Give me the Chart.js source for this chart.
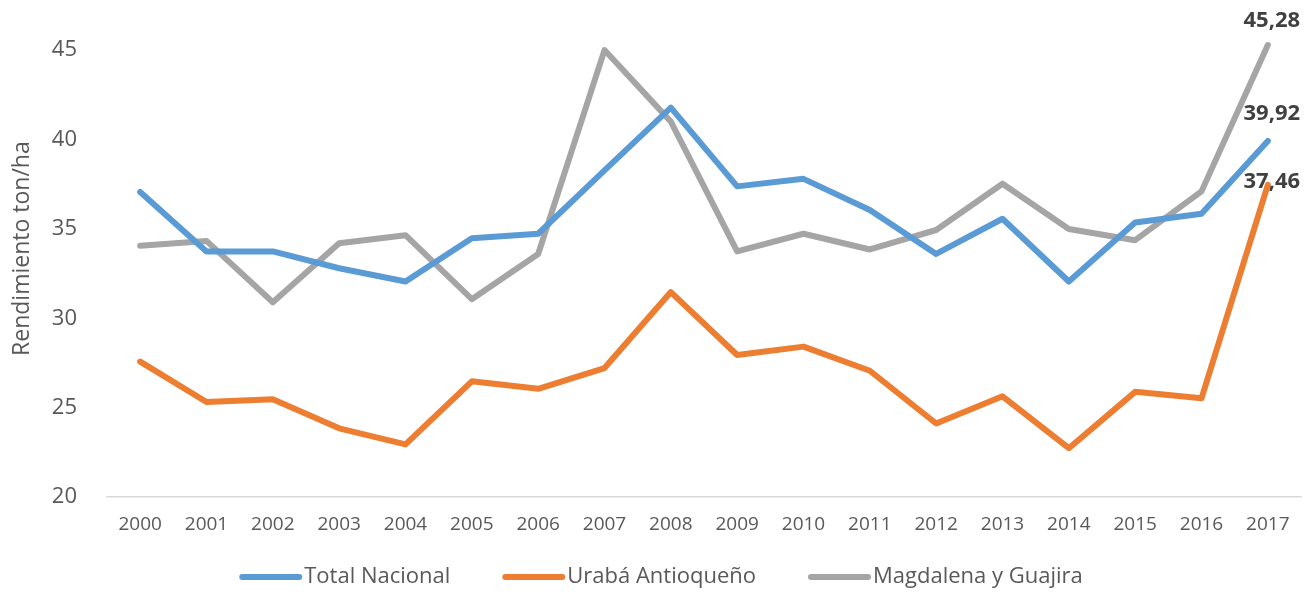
<!DOCTYPE html>
<html>
<head>
<meta charset="utf-8">
<script src="https://cdn.jsdelivr.net/npm/chart.js@4.4.1/dist/chart.umd.min.js"></script>
<style>
    html, body { margin: 0; padding: 0; background: #fff; }
    #wrap { width: 1307px; height: 592px; position: relative; }
</style>
</head>
<body>
<div id="wrap"><canvas id="rendimientoChart"></canvas></div>
<script>
    // Data
    const years = ['2000', '2001', '2002', '2003', '2004', '2005', '2006', '2007', '2008',
                   '2009', '2010', '2011', '2012', '2013', '2014', '2015', '2016', '2017'];
    const totalNacional = [37.07, 33.74, 33.74, 32.8, 32.06, 34.48, 34.73, 38.27, 41.78,
                           37.38, 37.8, 36.06, 33.6, 35.57, 32.06, 35.36, 35.85, 39.92];
    const urabaAntioqueno = [27.58, 25.32, 25.47, 23.85, 22.95, 26.48, 26.06, 27.22, 31.47,
                             27.95, 28.42, 27.07, 24.12, 25.64, 22.74, 25.89, 25.53, 37.46];
    const magdalenaGuajira = [34.06, 34.33, 30.9, 34.2, 34.65, 31.07, 33.6, 45.0, 41.0,
                              33.74, 34.73, 33.85, 34.94, 37.53, 35.0, 34.37, 37.1, 45.28];
    const yTicks = [20, 25, 30, 35, 40, 45];

    // Label on the last point of each series, offsets in px
    const endLabelOffsets = [{ dx: 4, dy: -27 }, { dx: 4, dy: -3 }, { dx: 4, dy: -24 }];

    const endLabels = {
        id: 'endLabels',
        afterDatasetsDraw: function(chart) {
            const ctx = chart.ctx;
            ctx.save();
            ctx.font = 'bold 22px "Open Sans"';
            ctx.fillStyle = '#404040';
            ctx.textAlign = 'center';
            ctx.textBaseline = 'middle';
            chart.data.datasets.forEach(function(ds, i) {
                const meta = chart.getDatasetMeta(i);
                const last = meta.data[meta.data.length - 1];
                const value = ds.data[ds.data.length - 1];
                const off = endLabelOffsets[i];
                ctx.fillText(value.toFixed(2).replace('.', ','), last.x + off.dx, last.y + off.dy);
            });
            ctx.restore();
        }
    };

    // Legend drawn by hand so the item spacing matches the original
    const bottomLegend = {
        id: 'bottomLegend',
        afterDraw: function(chart) {
            const ctx = chart.ctx;
            const lineLen = 60, textGap = 5, itemGap = 52, y = 577;
            ctx.save();
            ctx.font = '22px "Open Sans"';
            ctx.textBaseline = 'middle';
            const widths = chart.data.datasets.map(function(ds) {
                return lineLen + textGap + ctx.measureText(ds.label).width;
            });
            const total = widths.reduce(function(a, b) { return a + b; }, 0) + itemGap * (widths.length - 1);
            let x = 661 - total / 2;
            chart.data.datasets.forEach(function(ds, i) {
                ctx.strokeStyle = ds.borderColor;
                ctx.lineWidth = 6;
                ctx.lineCap = 'round';
                ctx.beginPath();
                ctx.moveTo(x + 3, y);
                ctx.lineTo(x + lineLen, y);
                ctx.stroke();
                ctx.fillStyle = '#595959';
                ctx.fillText(ds.label, x + lineLen + textGap, y);
                x += widths[i] + itemGap;
            });
            ctx.restore();
        }
    };

    const ctx = document.getElementById('rendimientoChart').getContext('2d');
    new Chart(ctx, {
        type: 'line',
        data: {
            labels: years,
            datasets: [{
                label: 'Total Nacional',
                data: totalNacional,
                borderColor: '#5B9BD5',
                backgroundColor: '#5B9BD5'
            }, {
                label: 'Urabá Antioqueño',
                data: urabaAntioqueno,
                borderColor: '#ED7D31',
                backgroundColor: '#ED7D31'
            }, {
                label: 'Magdalena y Guajira',
                data: magdalenaGuajira,
                borderColor: '#A5A5A5',
                backgroundColor: '#A5A5A5'
            }]
        },
        options: {
            responsive: true,
            maintainAspectRatio: false,
            animation: false,
            clip: false,
            elements: {
                line: { borderWidth: 6, tension: 0, borderJoinStyle: 'round', borderCapStyle: 'round' },
                point: { radius: 0, hoverRadius: 0 }
            },
            layout: { padding: { top: 0, right: 6, left: 9, bottom: 40 } },
            plugins: {
                tooltip: { enabled: false },
                legend: { display: false }
            },
            scales: {
                x: {
                    offset: true,
                    grid: { display: false, drawTicks: false },
                    border: { display: true, color: '#d9d9d9', width: 1.5 },
                    ticks: {
                        font: { family: 'Open Sans', size: 19 },
                        color: '#595959',
                        padding: 16,
                        maxRotation: 0,
                        autoSkip: false
                    },
                    afterFit: function(axis) {
                        axis.paddingLeft = 0;
                        axis.paddingRight = 0;
                    }
                },
                y: {
                    min: 20,
                    max: 47.8,
                    grid: { display: false, drawTicks: false },
                    border: { display: false },
                    afterBuildTicks: function(axis) {
                        axis.ticks = yTicks.map(function(v) { return { value: v }; });
                    },
                    afterFit: function(axis) {
                        axis.paddingTop = 0;
                        axis.paddingBottom = 0;
                        axis.width = 98;
                    },
                    ticks: {
                        font: { family: 'Open Sans', size: 22 },
                        color: '#595959',
                        padding: 30
                    },
                    title: {
                        display: true,
                        text: 'Rendimiento ton/ha',
                        font: { family: 'Open Sans', size: 23 },
                        color: '#595959',
                        padding: { top: 0, bottom: 0 }
                    }
                }
            }
        },
        plugins: [endLabels, bottomLegend]
    });
</script>
</body>
</html>
